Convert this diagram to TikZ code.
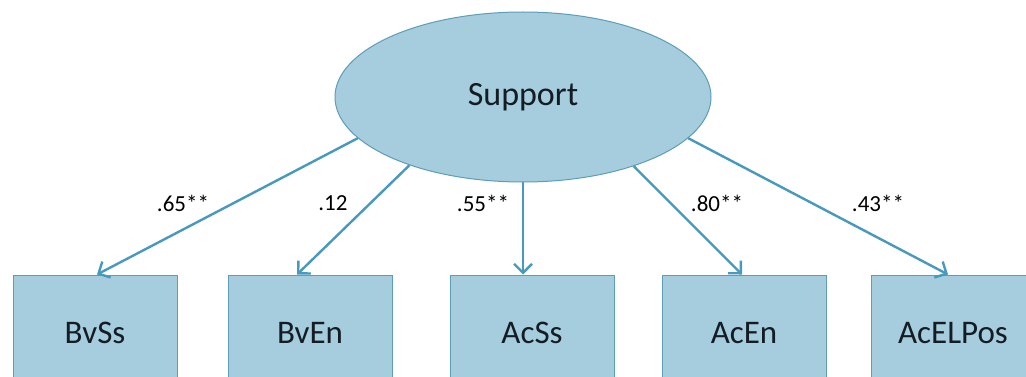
\documentclass[tikz,border=0pt]{standalone}
\usepackage{fontspec}
\setmainfont{Carlito}
\usetikzlibrary{shapes.geometric,arrows.meta}

\definecolor{boxfill}{RGB}{166,205,222}
\definecolor{boxline}{RGB}{92,157,184}
\definecolor{pathcol}{RGB}{72,153,190}
\definecolor{txtcol}{RGB}{20,28,36}

\tikzset{
  latent/.style={ellipse, draw=boxline, line width=1pt, fill=boxfill,
    minimum width=376pt, minimum height=170pt, inner sep=0pt,
    text=txtcol, font=\fontsize{34}{40}\selectfont},
  indicator/.style={rectangle, draw=boxline, line width=1pt, fill=boxfill,
    minimum width=164pt, minimum height=116pt, inner sep=0pt,
    text=txtcol, font=\fontsize{33}{40}\selectfont},
  loading/.style={text=black, inner sep=0pt, font=\fontsize{23}{27}\selectfont},
  path arrow/.style={draw=pathcol, line width=2.4pt,
    -{Straight Barb[length=9pt,width=18pt,line width=2.4pt]}}
}

\begin{document}
\begin{tikzpicture}[x=1pt, y=-1pt]
\clip (0,0) rectangle (1026,377);
\fill[white] (0,0) rectangle (1026,377);

% Latent factor
\node[latent] (sup) at (523,97) {Support};

% Observed indicators
\node[indicator] (bvss) at (95,333) {BvSs};
\node[indicator] (bven) at (310,333) {BvEn};
\node[indicator] (acss) at (532,333) {AcSs};
\node[indicator] (acen) at (744,333) {AcEn};
\node[indicator] (acel) at (953,333) {AcELPos};

% Paths
\draw[path arrow] (sup.194) -- ([xshift=2pt]bvss.north);
\draw[path arrow] (sup.211) -- ([xshift=-13pt]bven.north);
\draw[path arrow] (sup.270) -- ([xshift=-9pt]acss.north);
\draw[path arrow] (sup.328) -- ([xshift=-2pt]acen.north);
\draw[path arrow] (sup.346) -- ([xshift=-5pt]acel.north);

% Loadings
\node[loading] (l1) at (183,203) {.65**};
\node[loading] (l2) at (333,203) {.12};
\node[loading] (l3) at (483,203) {.55**};
\node[loading] (l4) at (717,203) {.80**};
\node[loading] (l5) at (878,203) {.43**};
\end{tikzpicture}
\end{document}
